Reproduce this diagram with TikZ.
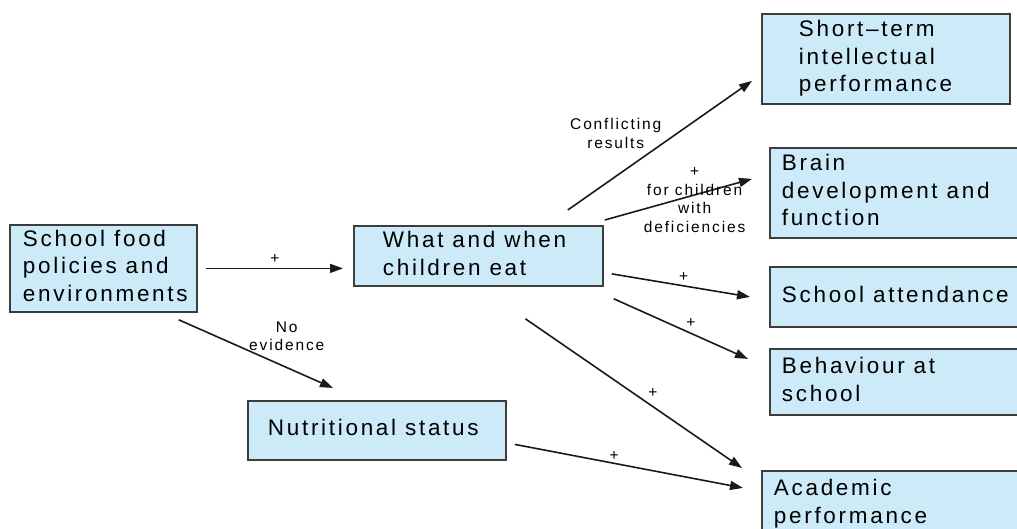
\documentclass[tikz,border=0pt]{standalone}
\usepackage{fontspec}
\setmainfont{Liberation Sans}
\newfontfamily\diafont[LetterSpace=12]{Liberation Sans}
\usetikzlibrary{arrows.meta}
\definecolor{FoodBox}{HTML}{CDEAF9}
\definecolor{FoodLine}{HTML}{3C3C3C}
\definecolor{FoodArrow}{HTML}{1A1A1A}
\newcommand{\boxlines}[2]{\makebox[#1][l]{\begin{tabular}{@{}l@{}}#2\end{tabular}}}

\begin{document}
\begin{tikzpicture}[x=1pt,y=-1pt,
    fbox/.style={draw=FoodLine,fill=FoodBox,line width=1.8pt,anchor=north west,inner sep=0pt,
      font=\diafont\fontsize{22.5}{27.5}\selectfont},
    arr/.style={draw=FoodArrow,line width=1.6pt,-{Triangle[length=13pt,width=9pt]}},
    lbl/.style={inner sep=1pt,align=center,text=black,font=\diafont\fontsize{15.5}{18.5}\selectfont}]
    \useasboundingbox (0,0) rectangle (1017,529);

    \node[fbox,minimum width=187,minimum height=87] (food) at (9,224) {\boxlines{161pt}{School food\\policies and\\environments}};
    \node[fbox,minimum width=249,minimum height=60] (eat) at (353,225) {\boxlines{191pt}{What and when\\children eat}};
    \node[fbox,minimum width=258,minimum height=59] (nutr) at (247,400) {\boxlines{218pt}{Nutritional status}};

    \node[fbox,minimum width=248,minimum height=90] (short) at (761,13) {\boxlines{174pt}{Short–term\\intellectual\\performance}};
    \node[fbox,minimum width=248,minimum height=90] (brain) at (769,147) {\boxlines{224pt}{Brain\\development and\\function}};
    \node[fbox,minimum width=248,minimum height=60] (attend) at (769,266) {\boxlines{224pt}{School attendance}};
    \node[fbox,minimum width=248,minimum height=66] (behav) at (769,348) {\boxlines{224pt}{Behaviour at\\school}};
    \node[fbox,minimum width=256,minimum height=66] (acad) at (761,470) {\boxlines{232pt}{Academic\\performance}};

    \draw[arr,shorten >=10pt] ([xshift=8pt]food.east) -- (food.east -| eat.west)
      node[lbl,pos=0.47,above=3pt] {+};
    \draw[arr] ([xshift=-19pt,yshift=-7pt]food.south east) -- ([xshift=86pt,yshift=12pt]nutr.north west)
      node[lbl,pos=0.7,above=15pt] {No\\evidence};
    \draw[arr] ([xshift=-36pt,yshift=15pt]eat.north east) -- ([xshift=-9pt,yshift=-22pt]short.west)
      node[lbl,pos=0.26,above=26pt] {Conflicting\\results};
    \draw[arr] ([xshift=1pt,yshift=5pt]eat.north east) -- ([xshift=-17pt,yshift=14pt]brain.west)
      node[lbl,pos=0.61,yshift=-5pt] {+\\for children\\with\\deficiencies};
    \draw[arr] ([xshift=8pt,yshift=-18pt]eat.east) -- ([xshift=-19pt]attend.west)
      node[lbl,pos=0.52,above=3pt] {+};
    \draw[arr] ([xshift=10pt,yshift=-12pt]eat.south east) -- ([xshift=-21pt,yshift=23pt]behav.west)
      node[lbl,pos=0.52,above right=1pt] {+};
    \draw[arr] ([xshift=47pt,yshift=-32pt]eat.south) -- ([xshift=-19pt,yshift=2pt]acad.north west)
      node[lbl,pos=0.55,above right=2pt] {+};
    \draw[arr] ([xshift=8pt,yshift=-14pt]nutr.east) -- ([xshift=-18pt,yshift=16pt]acad.west)
      node[lbl,pos=0.435,above=1pt] {+};
  \end{tikzpicture}
\end{document}
